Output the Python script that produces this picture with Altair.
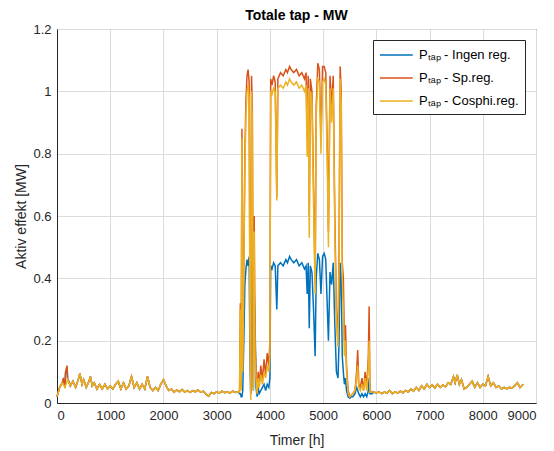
import altair as alt
import pandas as pd

# ---- data ----
labels = ["Pₜₐₚ - Ingen reg.", "Pₜₐₚ - Sp.reg.", "Pₜₐₚ - Cosphi.reg."]
colors = ["#0072BD", "#D95319", "#EDB120"]

# low season, start of year (all three series practically equal)
timer_start = [0, 50, 100, 150, 200, 250, 300, 350, 400, 430, 470, 500, 550, 600, 630, 660,
               700, 750, 800, 850, 900, 950, 1000, 1050, 1100, 1150, 1200, 1250, 1300, 1350,
               1400, 1450, 1500, 1550, 1600, 1650, 1700, 1750, 1800, 1850, 1900, 1950, 2000,
               2050, 2100, 2150, 2200, 2250, 2300, 2350, 2400, 2450, 2500, 2550, 2600, 2650,
               2700, 2750, 2800, 2850, 2900, 2950, 3000, 3050, 3100, 3150, 3200, 3250, 3300,
               3350]
base_start = [0.02, 0.05, 0.065, 0.05, 0.075, 0.055, 0.07, 0.05, 0.075, 0.095, 0.06, 0.075,
              0.05, 0.07, 0.085, 0.055, 0.065, 0.045, 0.06, 0.045, 0.06, 0.045, 0.055, 0.045,
              0.06, 0.07, 0.045, 0.065, 0.045, 0.055, 0.085, 0.05, 0.065, 0.045, 0.06, 0.045,
              0.085, 0.05, 0.04, 0.05, 0.04, 0.06, 0.075, 0.055, 0.04, 0.045, 0.035, 0.042,
              0.036, 0.043, 0.035, 0.04, 0.034, 0.04, 0.036, 0.042, 0.035, 0.038, 0.028, 0.022,
              0.034, 0.03, 0.036, 0.032, 0.038, 0.033, 0.036, 0.032, 0.038, 0.034]
# early-year spike visible only for Ingen/Sp reg.
spike_timer = [120, 160, 190, 220]
spike_ingen = [0.075, 0.095, 0.11, 0.07]
spike_sp = [0.08, 0.10, 0.12, 0.07]

# summer period, the three regulations differ
timer_mid = [3400, 3430, 3445, 3460, 3475, 3490, 3510, 3530, 3550, 3570, 3590, 3610, 3625,
             3640, 3655, 3670, 3690, 3705, 3720, 3740, 3760, 3780, 3800, 3830, 3860, 3890,
             3920, 3950, 3980, 4000, 4015, 4040, 4070, 4100, 4130, 4150, 4200, 4250, 4300,
             4330, 4370, 4400, 4450, 4500, 4550, 4600, 4650, 4680, 4700, 4720, 4740, 4760,
             4790, 4820, 4850, 4870, 4900, 4930, 4960, 4990, 5020, 5050, 5080, 5100, 5130,
             5160, 5190, 5220, 5250, 5280, 5300, 5320, 5340, 5360, 5380, 5400, 5420, 5440,
             5470, 5500, 5530, 5560, 5600, 5630, 5650, 5670, 5700, 5730, 5760, 5790, 5820,
             5850, 5865, 5880, 5920]
ingen_mid = [0.036, 0.03, 0.03, 0.02, 0.02, 0.04, 0.20, 0.38, 0.43, 0.46, 0.44, 0.47, 0.15,
             0.03, 0.45, 0.40, 0.04, 0.36, 0.28, 0.05, 0.02, 0.05, 0.03, 0.04, 0.05, 0.06,
             0.04, 0.06, 0.05, 0.08, 0.44, 0.43, 0.45, 0.44, 0.30, 0.44, 0.45, 0.44, 0.46,
             0.45, 0.47, 0.46, 0.45, 0.46, 0.44, 0.45, 0.43, 0.44, 0.35, 0.45, 0.24, 0.44,
             0.42, 0.30, 0.15, 0.40, 0.48, 0.46, 0.35, 0.47, 0.48, 0.46, 0.30, 0.20, 0.42,
             0.38, 0.45, 0.25, 0.10, 0.08, 0.20, 0.45, 0.40, 0.15, 0.10, 0.06, 0.08, 0.04,
             0.02, 0.015, 0.02, 0.02, 0.03, 0.05, 0.04, 0.03, 0.02, 0.03, 0.02, 0.03, 0.02,
             0.04, 0.08, 0.03, 0.03]
sp_mid = [0.036, 0.04, 0.32, 0.05, 0.88, 0.12, 0.45, 0.80, 0.97, 1.05, 1.07, 1.03, 0.35,
          0.03, 1.05, 0.95, 0.05, 0.60, 0.20, 0.10, 0.03, 0.10, 0.06, 0.12, 0.07, 0.14,
          0.09, 0.16, 0.12, 0.20, 1.04, 1.02, 1.05, 1.03, 0.66, 1.04, 1.06, 1.05, 1.07,
          1.06, 1.08, 1.07, 1.06, 1.07, 1.05, 1.06, 1.04, 1.06, 0.85, 1.05, 0.60, 1.04,
          1.00, 0.70, 0.38, 0.95, 1.09, 1.07, 0.85, 1.08, 1.08, 1.06, 0.80, 0.55, 1.05,
          0.95, 1.05, 0.60, 0.30, 0.20, 0.50, 1.08, 1.00, 0.45, 0.40, 0.20, 0.25, 0.12,
          0.04, 0.02, 0.025, 0.03, 0.04, 0.10, 0.17, 0.06, 0.05, 0.08, 0.04, 0.10, 0.05,
          0.15, 0.31, 0.04, 0.035]
cos_mid = [0.036, 0.035, 0.30, 0.04, 0.85, 0.10, 0.40, 0.75, 0.92, 1.00, 1.02, 0.98, 0.25,
           0.01, 1.00, 0.90, 0.04, 0.55, 0.15, 0.08, 0.03, 0.08, 0.05, 0.09, 0.06, 0.10,
           0.08, 0.12, 0.10, 0.15, 1.00, 0.99, 1.01, 1.00, 0.65, 1.01, 1.02, 1.01, 1.03,
           1.02, 1.04, 1.03, 1.02, 1.03, 1.01, 1.02, 1.00, 1.02, 0.79, 1.01, 0.53, 1.00,
           0.97, 0.65, 0.35, 0.92, 1.04, 1.03, 0.80, 1.03, 1.04, 1.02, 0.75, 0.50, 1.01,
           0.90, 1.01, 0.55, 0.25, 0.18, 0.45, 1.04, 0.96, 0.40, 0.30, 0.15, 0.20, 0.10,
           0.03, 0.02, 0.025, 0.03, 0.04, 0.08, 0.12, 0.05, 0.04, 0.06, 0.04, 0.08, 0.04,
           0.12, 0.20, 0.035, 0.035]

# low season, end of year (all three series practically equal)
timer_end = [5950, 6000, 6050, 6100, 6150, 6200, 6250, 6300, 6350, 6400, 6450, 6500, 6550,
             6600, 6650, 6700, 6750, 6800, 6850, 6900, 6950, 7000, 7050, 7100, 7150, 7200,
             7250, 7300, 7350, 7400, 7450, 7480, 7520, 7560, 7600, 7650, 7700, 7750, 7800,
             7850, 7900, 7950, 8000, 8050, 8100, 8150, 8200, 8250, 8300, 8350, 8400, 8450,
             8500, 8550, 8600, 8650, 8700, 8760]
base_end = [0.035, 0.032, 0.036, 0.03, 0.035, 0.032, 0.04, 0.03, 0.036, 0.032, 0.038, 0.033,
            0.04, 0.035, 0.045, 0.038, 0.05, 0.04, 0.055, 0.045, 0.06, 0.05, 0.058, 0.048,
            0.06, 0.05, 0.058, 0.052, 0.065, 0.06, 0.085, 0.065, 0.09, 0.06, 0.075, 0.045,
            0.05, 0.06, 0.07, 0.05, 0.065, 0.05, 0.06, 0.055, 0.085, 0.055, 0.065, 0.05,
            0.055, 0.045, 0.05, 0.045, 0.05, 0.048, 0.055, 0.065, 0.05, 0.06]

x_ticks = [0, 1000, 2000, 3000, 4000, 5000, 6000, 7000, 8000, 9000]
y_ticks = [0, 0.2, 0.4, 0.6, 0.8, 1.0, 1.2]

# ---- assemble long table ----
def build(mid, spike_t=None, spike_v=None):
    pts = list(zip(timer_start, base_start))
    if spike_t:
        pts += list(zip(spike_t, spike_v))
    pts = sorted(pts)
    pts += list(zip(timer_mid, mid))
    pts += list(zip(timer_end, base_end))
    return pts

rows = []
for lab, mid, st, sv in [(labels[0], ingen_mid, spike_timer, spike_ingen),
                         (labels[1], sp_mid, spike_timer, spike_sp),
                         (labels[2], cos_mid, None, None)]:
    for i, (t, v) in enumerate(build(mid, st, sv)):
        rows.append({"serie": lab, "timer": t, "effekt": v, "idx": i})
df = pd.DataFrame(rows)

FONT = "Liberation Sans"
TXT = "#262626"

x_enc = alt.X("timer:Q", scale=alt.Scale(domain=[0, 9000], nice=False),
              axis=alt.Axis(values=x_ticks, format="d", title="Timer [h]"))
y_enc = alt.Y("effekt:Q", scale=alt.Scale(domain=[0, 1.2], nice=False),
              axis=alt.Axis(values=y_ticks, format="~g", title="Aktiv effekt [MW]"))
color_enc = alt.Color("serie:N", scale=alt.Scale(domain=labels, range=colors),
                      sort=labels,
                      legend=alt.Legend(title=None, orient="top-right", offset=11,
                                        symbolType="M-1,0H3.1", symbolSize=256,
                                        symbolStrokeWidth=1.5, labelFontSize=13,
                                        labelFont=FONT, labelColor="#000000",
                                        fillColor="white", strokeColor="#262626",
                                        padding=6, rowPadding=7, labelOffset=22,
                                        cornerRadius=0))

layers = []
for lab in labels:
    layers.append(
        alt.Chart(df).transform_filter(alt.datum.serie == lab)
        .mark_line(strokeWidth=1.5)
        .encode(x=x_enc, y=y_enc, color=color_enc, order="idx:Q")
    )

chart = alt.layer(*layers).properties(
    width=479, height=374,
    title=alt.TitleParams("Totale tap - MW", fontSize=14, font=FONT, fontWeight="bold",
                          color="#000000", offset=0, frame="group"),
    autosize=alt.AutoSizeParams(type="none"),
    padding={"left": 49, "top": 21, "right": 10, "bottom": 48},
).configure_view(
    stroke=TXT, strokeWidth=1
).configure_axis(
    domainColor=TXT, tickColor=TXT, tickSize=0, labelColor=TXT, titleColor=TXT,
    labelFont=FONT, titleFont=FONT, labelFontSize=13, titleFontSize=14,
    titleFontWeight="normal", gridColor="#dcdcdc", gridWidth=1, labelPadding=6,
).configure_axisY(titlePadding=4).configure_axisX(titlePadding=11)

chart.save("out.html", embed_options={"renderer": "svg", "actions": False})
